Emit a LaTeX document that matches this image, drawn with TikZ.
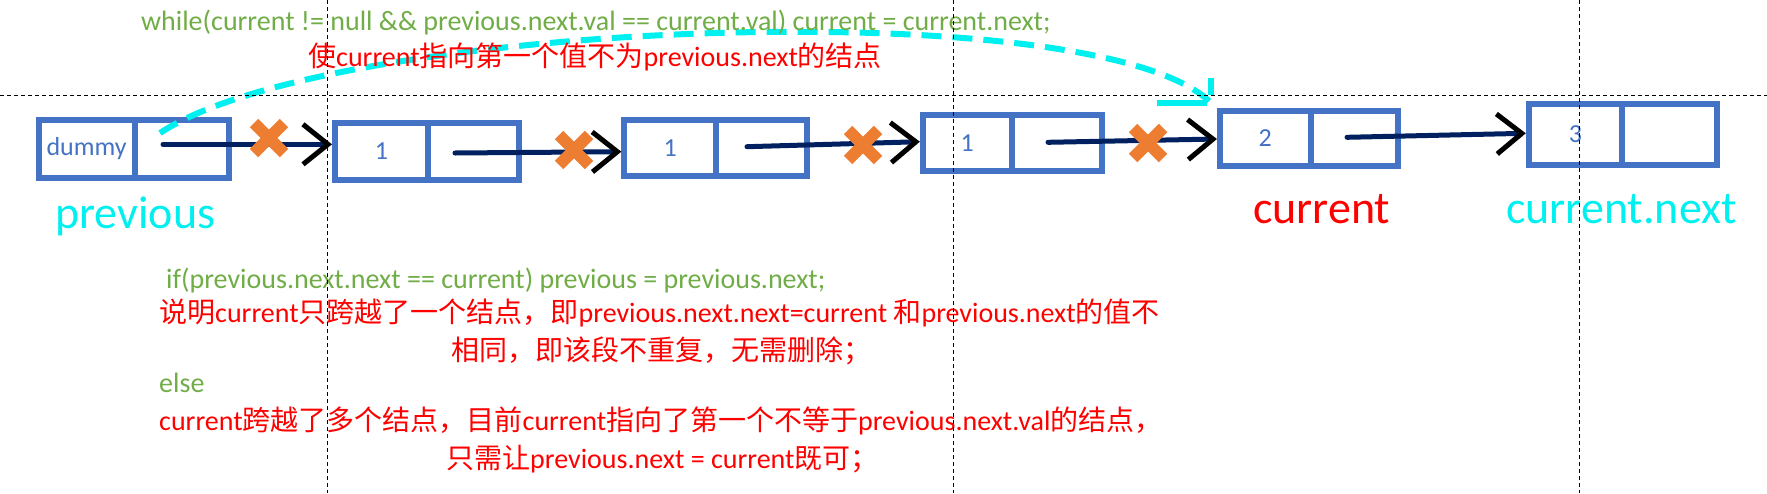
\documentclass[tikz,border=0pt]{standalone}
\usepackage{fontspec}
\setmainfont{Carlito}
\newfontfamily\cjk{Noto Sans CJK SC}
\newcommand{\zhtxt}[1]{{\cjk #1}}
\usetikzlibrary{arrows.meta,calc}
\definecolor{nodeblue}{HTML}{4472C4}
\definecolor{codegreen}{HTML}{70AD47}
\definecolor{xorange}{HTML}{ED7D31}
\definecolor{linknavy}{HTML}{002060}
\definecolor{aqua}{HTML}{00F0F0}
\definecolor{redtxt}{HTML}{FF0000}
\begin{document}
\begin{tikzpicture}[x=1pt,y=-1pt,
  cell/.style={draw=nodeblue,line width=6pt,inner sep=0pt,text=nodeblue,font=\fontsize{26}{28}\selectfont},
  link/.style={draw=linknavy,line width=5pt,line cap=round,-{Straight Barb[length=25pt,width=40pt,color=black,sharp]}},
  cyanlink/.style={draw=aqua,line width=6pt,dash pattern=on 20pt off 11pt},
  guide/.style={draw=black,line width=1pt,dash pattern=on 4pt off 3pt},
  codetxt/.style={anchor=base west,inner sep=0pt,text=codegreen,font=\fontsize{28}{30}\selectfont},
  redline/.style={anchor=base west,inner sep=0pt,text=redtxt,font=\fontsize{28}{30}\selectfont},
  biglabel/.style={anchor=base west,inner sep=0pt,font=\fontsize{46}{48}\selectfont},
  xmark/.pic={\draw[xorange,line width=12pt] (-15,-15) -- (15,15) (-15,15) -- (15,-15);}
]
\useasboundingbox (0,0) rectangle (1767,493);

% list nodes (value cell + pointer cell)
\node[cell,minimum width=96pt,minimum height=58pt] (n0v) at (86.6,148.7) {dummy};
\node[cell,minimum width=94.6pt,minimum height=58pt] (n0p) at (182,148.7) {};
\node[cell,minimum width=93pt,minimum height=56.7pt] (n1v) at (381.5,151.4) {1};
\node[cell,minimum width=91pt,minimum height=56.7pt] (n1p) at (473.5,151.4) {};
\node[cell,minimum width=91.7pt,minimum height=56.6pt] (n2v) at (670.2,148) {1};
\node[cell,minimum width=90.6pt,minimum height=56.6pt] (n2p) at (761.3,148) {};
\node[cell,minimum width=88.9pt,minimum height=56pt] (n3v) at (967.3,143.3) {1};
\node[cell,minimum width=90.3pt,minimum height=56pt] (n3p) at (1056.9,143.3) {};
\node[cell,minimum width=90.7pt,minimum height=55.6pt] (n4v) at (1265.3,138.5) {2};
\node[cell,minimum width=87.4pt,minimum height=55.6pt] (n4p) at (1354.3,138.5) {};
\node[cell,minimum width=93.2pt,minimum height=61.6pt] (n5v) at (1575.4,134.5) {3};
\node[cell,minimum width=94.9pt,minimum height=61.6pt] (n5p) at (1669.5,134.5) {};

% pointer links
\coordinate (s0) at (163,144.3);
\coordinate (s1) at (455,153);
\coordinate (s2) at (747,146.7);
\coordinate (s3) at (1048,142.3);
\coordinate (s4) at (1347,137.3);
\draw[link] (s0) -- (s0 -| n1v.west);
\draw[link] (s1) -- ($(n2v.west)+(0,3.7)$);
\draw[link] (s2) -- ($(n3v.west)+(0,-1.6)$);
\draw[link] (s3) -- ($(n4v.west)+(0,0.5)$);
\draw[link] (s4) -- ($(n5v.west)+(0,-1.2)$);

% crossed-out links
\pic at (269,138) {xmark};
\pic at (574,150) {xmark};
\pic at (863,145) {xmark};
\pic at (1148,143) {xmark};

% cyan dashed jump arrow
\coordinate (c0) at (160,133);
\coordinate (c1) at (1211,103);
\draw[cyanlink] (c0) .. controls (330,20) and (1100,-10) .. (c1);
\draw[draw=aqua,line width=6pt] (1211,78) -- (1211,95);
\draw[draw=aqua,line width=6pt] (1157,103) -- (1207,103);

% labels
\node[biglabel,text=aqua] (lprev) at (55,228) {previous};
\node[biglabel,text=redtxt] (lcur) at (1253,223) {current};
\node[biglabel,text=aqua] (lnext) at (1506,223) {current.next};

% code and explanations
\node[codetxt] (t1) at (141,30) {while(current != null \&\& previous.next.val == current.val) current = current.next;};
\node[redline] (t2) at (308,66) {\zhtxt{使}current\zhtxt{指向第一个值不为}previous.next\zhtxt{的结点}};
\node[codetxt] (t3) at (166,288) {if(previous.next.next == current) previous = previous.next;};
\node[redline] (t4) at (159,322) {\zhtxt{说明}current\zhtxt{只跨越了一个结点，即}previous.next.next=current \zhtxt{和}previous.next\zhtxt{的值不}};
\node[redline] (t5) at (451,360) {\zhtxt{相同，即该段不重复，无需删除；}};
\node[codetxt] (t6) at (159,392) {else};
\node[redline] (t7) at (159,430) {current\zhtxt{跨越了多个结点，目前}current\zhtxt{指向了第一个不等于}previous.next.val\zhtxt{的结点，}};
\node[redline] (t8) at (446,468) {\zhtxt{只需让}previous.next = current\zhtxt{既可；}};

% guide lines
\draw[guide] (0,95.5) -- (1767,95.5);
\draw[guide] (327,0) -- (327,493);
\draw[guide] (953,0) -- (953,493);
\draw[guide] (1579,0) -- (1579,493);
\end{tikzpicture}
\end{document}
